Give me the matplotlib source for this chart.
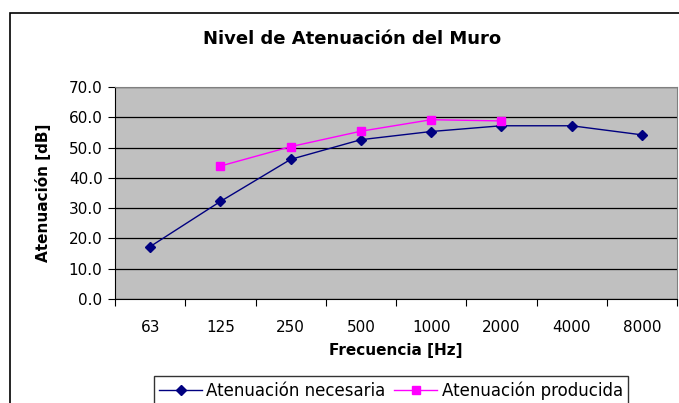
import matplotlib.pyplot as plt
import matplotlib.patches as patches
from matplotlib.ticker import FixedLocator, NullFormatter, FixedFormatter

plt.rcParams['font.family'] = ['DejaVu Sans']

freqs = ["63", "125", "250", "500", "1000", "2000", "4000", "8000"]
necesaria = [17.3, 32.2, 46.1, 52.6, 55.3, 57.2, 57.2, 54.2]
producida_idx = [1, 2, 3, 4, 5]
producida = [43.9, 50.3, 55.4, 59.2, 58.8]

fig = plt.figure(figsize=(6.79, 4.03), dpi=100)
ax = fig.add_axes([115/679, 1 - 299/403, 562/679, 212/403])
ax.set_facecolor('#C0C0C0')

x = list(range(len(freqs)))
ax.plot(x, necesaria, color='#000080', marker='D', markersize=5, linewidth=1,
        label='Atenuación necesaria')
ax.plot(producida_idx, producida, color='#FF00FF', marker='s', markersize=6, linewidth=1,
        label='Atenuación producida')

ax.set_xlim(-0.5, len(freqs) - 0.5)
ax.set_ylim(0, 70)
ax.set_yticks([i * 10 for i in range(8)])
ax.set_yticklabels([f"{i * 10:.1f}" for i in range(8)], fontsize=11)
ax.yaxis.grid(True, color='black', linewidth=0.9)
ax.set_axisbelow(True)

ax.xaxis.set_major_locator(FixedLocator([i - 0.5 for i in range(len(freqs) + 1)]))
ax.xaxis.set_major_formatter(NullFormatter())
ax.xaxis.set_minor_locator(FixedLocator(x))
ax.xaxis.set_minor_formatter(FixedFormatter(freqs))
ax.tick_params(axis='x', which='major', direction='out', length=5, color='black')
ax.tick_params(axis='x', which='minor', length=0, pad=15, labelsize=11)
ax.tick_params(axis='y', direction='out', length=5, labelsize=11, pad=4)

for side in ['top', 'right']:
    ax.spines[side].set_color('#808080')
ax.spines['left'].set_color('black')
ax.spines['bottom'].set_color('black')

ax.set_xlabel('Frecuencia [Hz]', fontsize=11, fontweight='bold', labelpad=6)
fig.text(43/679, 1 - 193/403, 'Atenuación [dB]', ha='center', va='center',
         rotation=90, fontsize=11, fontweight='bold')
fig.text(352/679, 1 - 39/403, 'Nivel de Atenuación del Muro', ha='center', va='center',
         fontsize=13, fontweight='bold')

fig.patches.append(patches.Rectangle((10/679, -0.1), 2, 1.1 - 13/403,
                                     transform=fig.transFigure, fill=False,
                                     edgecolor='black', linewidth=1.2))

leg = fig.legend(loc='upper left', bbox_to_anchor=(154/679, 1 - 376/403), ncol=2,
                 frameon=True, fancybox=False, fontsize=12, handlelength=2.6,
                 columnspacing=0.5, handletextpad=0.25, borderaxespad=0,
                 borderpad=0.3)
leg.get_frame().set_edgecolor('black')
leg.get_frame().set_linewidth(1)

fig.savefig('out.png', dpi=100)
